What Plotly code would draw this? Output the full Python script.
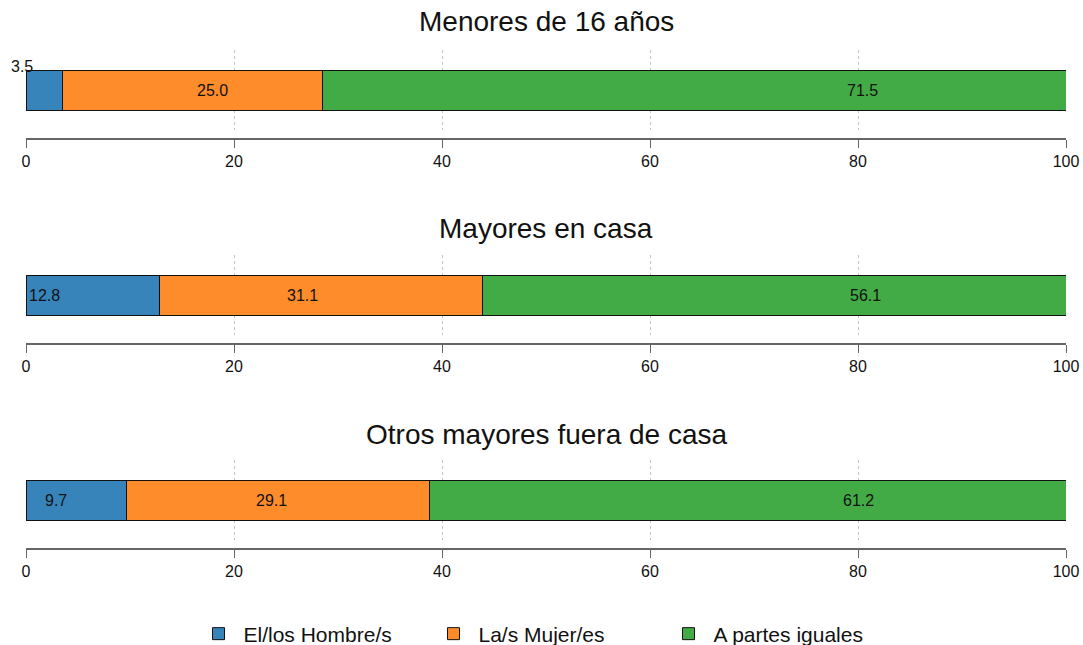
"""Stacked percentage bars: who takes care of dependants, by group."""

import plotly.graph_objects as go

# Data
PANELS = ["Menores de 16 años", "Mayores en casa", "Otros mayores fuera de casa"]
CATEGORIES = ["El/los Hombre/s", "La/s Mujer/es", "A partes iguales"]
HOMBRES = [3.5, 12.8, 9.7]
MUJERES = [25.0, 31.1, 29.1]
IGUALES = [71.5, 56.1, 61.2]
X_TICKS = [0, 20, 40, 60, 80, 100]

# where the value labels sit along the bar (data units), as in the original
LABEL_X = [
    [-0.4, 17.9, 80.4],
    [1.8, 26.6, 80.7],
    [2.9, 23.6, 80.0],
]

COLORS = ["#3784bb", "#ff8c2a", "#43ab45"]
W, H = 1083, 645
FONT = "Liberation Sans, Arial, Helvetica, sans-serif"

# panel plot areas in pixels (top, bottom)
PANEL_PX = [(50, 130), (255, 335), (460, 540)]
AXIS_GAP = 9
TITLE_PX = [22, 228, 434]


def py(px: float) -> float:
    return 1 - px / H


series = [HOMBRES, MUJERES, IGUALES]

fig = go.Figure()
for p, panel in enumerate(PANELS):
    sfx = "" if p == 0 else str(p + 1)
    for c, cat in enumerate(CATEGORIES):
        fig.add_trace(
            go.Bar(
                x=[series[c][p]],
                y=[0],
                orientation="h",
                name=cat,
                legendgroup=cat,
                showlegend=(p == 0),
                width=0.5,
                marker=dict(color=COLORS[c], line=dict(color="#111", width=1)),
                xaxis="x" + sfx,
                yaxis="y" + sfx,
                hoverinfo="x+name",
            )
        )
        lx = LABEL_X[p][c]
        outside = lx < 0
        fig.add_annotation(
            x=lx / 100 if outside else lx,
            y=0.29 if outside else 0,
            xref="paper" if outside else "x" + sfx,
            yref="y" + sfx,
            xanchor="center",
            text=f"{series[c][p]:.1f}",
            showarrow=False,
            font=dict(size=16, color="#111", family=FONT),
        )
    fig.add_annotation(
        x=0.5,
        y=py(TITLE_PX[p]),
        xref="paper",
        yref="paper",
        text=panel,
        showarrow=False,
        yanchor="middle",
        font=dict(size=28, color="#111", family=FONT),
    )

layout = dict(
    width=W,
    height=H,
    barmode="stack",
    plot_bgcolor="white",
    paper_bgcolor="white",
    margin=dict(l=26, r=17, t=0, b=0, autoexpand=False),
    font=dict(family=FONT, color="#111"),
    showlegend=True,
    legend=dict(
        orientation="h",
        x=0.5,
        xanchor="center",
        y=py(634),
        yanchor="middle",
        font=dict(size=21, family=FONT),
        itemwidth=40,
        tracegroupgap=0,
        entrywidth=180,
    ),
)

for p, (top, bottom) in enumerate(PANEL_PX):
    sfx = "" if p == 0 else str(p + 1)
    layout["xaxis" + sfx] = dict(
        domain=[0, 1],
        range=[0, 100],
        anchor="free",
        position=py(bottom + AXIS_GAP),
        tickvals=X_TICKS,
        ticks="outside",
        ticklen=8,
        tickcolor="#666",
        showline=True,
        linecolor="#666",
        linewidth=1.5,
        showgrid=True,
        gridcolor="#c4c4c4",
        griddash="dot",
        gridwidth=1,
        zeroline=False,
        tickfont=dict(size=16, color="#111"),
        fixedrange=True,
    )
    layout["yaxis" + sfx] = dict(
        domain=[py(bottom), py(top)],
        range=[-0.5, 0.5],
        anchor="x" + sfx,
        visible=False,
        fixedrange=True,
    )

fig.update_layout(**layout)
# drop the default page margin so the figure fills the window exactly
fig.write_html(
    "out.html",
    config={"displayModeBar": False},
    post_script="document.body.style.margin='0';",
)
